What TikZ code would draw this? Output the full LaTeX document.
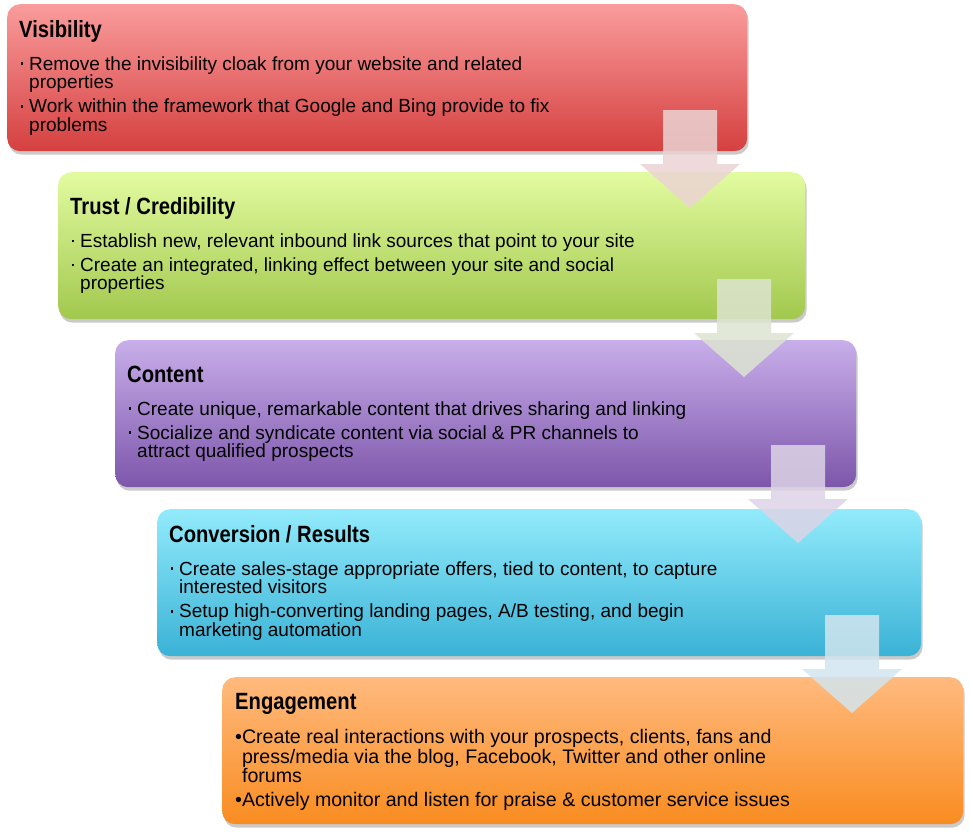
\documentclass[tikz,border=0pt]{standalone}
\usepackage{fontspec}
\setmainfont{Liberation Sans}
\newfontfamily\ttlfont[FakeStretch=0.86]{Liberation Sans}
\usetikzlibrary{shadows,calc}
\definecolor{redT}{HTML}{FA9C9C}
\definecolor{redB}{HTML}{D4403F}
\definecolor{grnT}{HTML}{E2FBA0}
\definecolor{grnB}{HTML}{A2C84E}
\definecolor{purT}{HTML}{C8AEEA}
\definecolor{purB}{HTML}{7D56AA}
\definecolor{cyaT}{HTML}{92EBFB}
\definecolor{cyaB}{HTML}{3AB2D6}
\definecolor{orgT}{HTML}{FFBA7E}
\definecolor{orgB}{HTML}{F98C20}
\definecolor{arA}{HTML}{EBD4D4}
\definecolor{arB}{HTML}{DCE4D0}
\definecolor{arC}{HTML}{DDD4E6}
\definecolor{arD}{HTML}{D2E5EE}
\newcommand\ttl[1]{\hbox{\ttlfont\bfseries\fontsize{23.5}{23.5}\selectfont #1}}
\newcommand\bl[1]{\hbox{\hspace*{1.5pt}\makebox[8.5pt][l]{\raisebox{5.2pt}{\rule{2.7pt}{2.7pt}}}#1}}
\newcommand\cl[1]{\hbox{\hspace*{10pt}#1}}
\newcommand\fbl[1]{\hbox{•#1}}
\newcommand\fcl[1]{\hbox{\phantom{•}#1}}
\newcommand\blk[1]{\vbox{\fontsize{19}{18.5}\selectfont\lineskiplimit=-50pt\baselineskip=18.5pt\lineskip=0pt #1}}
\newcommand\blkb[1]{\vbox{\fontsize{19.6}{19.5}\selectfont\lineskiplimit=-50pt\baselineskip=19.5pt\lineskip=0pt #1}}
\newcommand\tgap{\vskip14.5pt}
\newcommand\igap{\vskip5.5pt}
\newcommand\flowarrow[4]{% #1 centre x, #2 top y, #3 colour, #4 name
  \fill[arr,#3] (#1-27,#2) coordinate (#4) -- (#1+27,#2) -- (#1+27,#2+54) -- (#1+50,#2+54)
    -- (#1,#2+98) -- (#1-50,#2+54) -- (#1-27,#2+54) -- cycle;}
\tikzset{
  box/.style={rounded corners=13pt, anchor=north west, inner sep=0pt, draw=none,
    drop shadow={shadow xshift=1.5pt, shadow yshift=-3.5pt, opacity=0.28, fill=black!75}},
  txt/.style={anchor=west, inner sep=0pt, align=left, text=black},
  arr/.style={draw=none, fill opacity=0.85}
}
\begin{document}
\begin{tikzpicture}[x=1pt,y=-1pt]
\useasboundingbox (0,0) rectangle (970,836);
\node[box, minimum width=740pt, minimum height=147pt, top color=redT, bottom color=redB] (b1) at (7,4) {};
\node[box, minimum width=747pt, minimum height=147pt, top color=grnT, bottom color=grnB] (b2) at (58,172) {};
\node[box, minimum width=741pt, minimum height=147pt, top color=purT, bottom color=purB] (b3) at (115,340) {};
\node[box, minimum width=764pt, minimum height=147pt, top color=cyaT, bottom color=cyaB] (b4) at (157,509) {};
\node[box, minimum width=741pt, minimum height=147pt, top color=orgT, bottom color=orgB] (b5) at (222,677) {};

\node[txt] (t1) at ($(b1.west)+(12,0)$) {\blk{%
  \ttl{Visibility}\tgap
  \bl{Remove the invisibility cloak from your website and related}
  \cl{properties}\igap
  \bl{Work within the framework that Google and Bing provide to fix}
  \cl{problems}}};
\node[txt] (t2) at ($(b2.west)+(12,0)$) {\blk{%
  \ttl{Trust / Credibility}\tgap
  \bl{Establish new, relevant inbound link sources that point to your site}\igap
  \bl{Create an integrated, linking effect between your site and social}
  \cl{properties}}};
\node[txt] (t3) at ($(b3.west)+(12,0)$) {\blk{%
  \ttl{Content}\tgap
  \bl{Create unique, remarkable content that drives sharing and linking}\igap
  \bl{Socialize and syndicate content via social \& PR channels to}
  \cl{attract qualified prospects}}};
\node[txt] (t4) at ($(b4.west)+(12,0)$) {\blk{%
  \ttl{Conversion / Results}\tgap
  \bl{Create sales-stage appropriate offers, tied to content, to capture}
  \cl{interested visitors}\igap
  \bl{Setup high-converting landing pages, A/B testing, and begin}
  \cl{marketing automation}}};
\node[txt] (t5) at ($(b5.west)+(13,1)$) {\blkb{%
  \ttl{Engagement}\tgap
  \fbl{Create real interactions with your prospects, clients, fans and}
  \fcl{press/media via the blog, Facebook, Twitter and other online}
  \fcl{forums}\vskip4pt
  \fbl{Actively monitor and listen for praise \& customer service issues}}};

\flowarrow{690}{110}{arA}{a1}
\flowarrow{744}{279}{arB}{a2}
\flowarrow{798}{445}{arC}{a3}
\flowarrow{852}{615}{arD}{a4}
\end{tikzpicture}
\end{document}
